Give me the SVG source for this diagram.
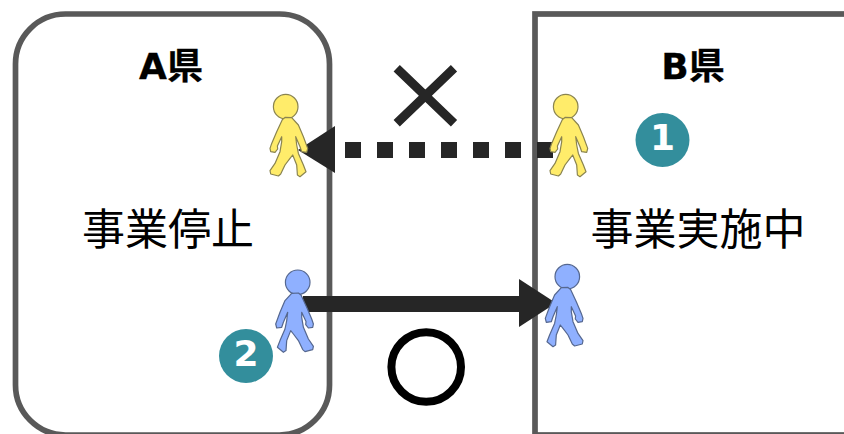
<svg xmlns="http://www.w3.org/2000/svg" width="844" height="434" viewBox="0 0 844 434">
<style>
.box{fill:#fff;stroke:#595959;stroke-width:5.700}
.title{font:bold 36px "DejaVu Sans","Noto Sans CJK JP",sans-serif;text-anchor:middle;fill:#000;stroke:#000;stroke-width:.3}
.body{font:43px "Noto Sans CJK JP",sans-serif;text-anchor:middle;fill:#000}
.num{font:bold 36px "DejaVu Sans",sans-serif;text-anchor:middle;fill:#fff}
.badge{fill:#338e9c}
.y{fill:#ffec6a;stroke:#8a8450}
.b{fill:#8fb0ff;stroke:#55678f}
.line{fill:none;stroke:#262626;stroke-width:16}
.head{fill:#262626}
</style>
<defs>
<g id="p" stroke-width="1.2" stroke-linejoin="round">
<circle cx="0" cy="0" r="12.300"/>
<path d="M-3.300 12.700L-9 25L-14 36.700L-15.700 41.700L-15 45L-10.700 45.700L-8 42.300L-8.300 39.300L-4 30L-4 35L-5.700 45L-10.700 56.700L-15.700 64L-15 67.300L-7.300 69.300L-5 67.300L-.7 58.300L4.300 51.700L7 48.300L11 58.300L11.700 68.300L14.300 70L20.300 65L17.700 58.300L12.700 46.700L11 38.300L10 30L14.300 40L16 45L21 45.700L22 41.700L17.700 30L12.700 18.300L6 11L-.7 10.700Z"/>
</g>
</defs>
<g id="node-a"><rect class="box" x="15.500" y="14" width="314" height="421" rx="50" ry="50"/><text class="title" x="171" y="78.500">A県</text><text class="body" x="168" y="245">事業停止</text></g>
<g id="node-b"><rect class="box" x="535" y="14" width="320" height="421"/><text class="title" x="693" y="78.500">B県</text><text class="body" x="698" y="245">事業実施中</text></g>
<g id="connectors">
<path class="line" stroke-dasharray="16 16" d="M345 150H553"/>
<path class="head" d="M298 150L335 126V173Z"/>
<path class="line" d="M303 304H522"/>
<path class="head" d="M556 303L519 279V327Z"/>
<path d="M396.700 68.300L454 123.300M454 68.300L396.700 123.300" fill="none" stroke="#262626" stroke-width="9"/>
<circle cx="426.200" cy="367" r="34.800" fill="none" stroke="#000" stroke-width="8"/>
</g>
<g id="person-1" class="y"><use href="#p" transform="translate(285.700 106.700)"/></g>
<g id="person-2" class="y"><use href="#p" transform="translate(565.700 106.700)"/></g>
<g id="person-3" class="b"><use href="#p" transform="translate(297.700 282.300) scale(-1 1)"/></g>
<g id="person-4" class="b"><use href="#p" transform="translate(567.300 276.700) scale(-1 1)"/></g>
<g id="badge-1"><circle class="badge" cx="662.500" cy="140" r="27"/><text class="num" x="662.500" y="149.500">1</text></g>
<g id="badge-2"><circle class="badge" cx="246" cy="356" r="27"/><text class="num" x="246" y="366">2</text></g>
</svg>
